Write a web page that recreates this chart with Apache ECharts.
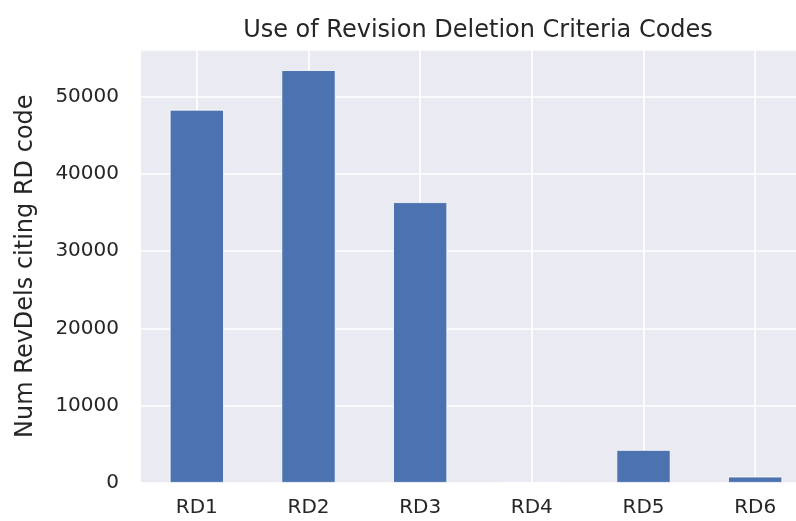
<!DOCTYPE html>
<html>
<head>
<meta charset="utf-8">
<script src="https://cdn.jsdelivr.net/npm/echarts@6/dist/echarts.min.js"></script>
<style>html,body{margin:0;padding:0;background:#fff;overflow:hidden;}#chart{width:796px;height:521px;}</style>
</head>
<body>
<div id="chart"></div>
<script>
const categories = ['RD1', 'RD2', 'RD3', 'RD4', 'RD5', 'RD6'];
const counts = [48300, 53430, 36330, 0, 4250, 800];
const yTicks = [0, 10000, 20000, 30000, 40000, 50000];
const titleText = 'Use of Revision Deletion Criteria Codes';
const yName = 'Num RevDels citing RD code';

const chart = echarts.init(document.getElementById('chart'), null, {renderer: 'canvas'});
const font = 'DejaVu Sans';
chart.setOption({
  animation: false,
  backgroundColor: '#ffffff',
  title: {
    text: titleText,
    left: 473, top: 14, textAlign: 'center',
    textStyle: {fontFamily: font, fontSize: 24, fontWeight: 'normal', color: '#262626'}
  },
  grid: {left: 141, width: 670, top: 49.5, height: 433.3, containLabel: false, outerBoundsMode: 'none', show: true, backgroundColor: '#eaeaf2', borderWidth: 0},
  xAxis: {
    type: 'category',
    data: categories,
    axisLine: {show: false},
    axisTick: {show: false},
    splitLine: {show: true, alignWithLabel: true, lineStyle: {color: '#ffffff', width: 1.6}},
    axisLabel: {fontFamily: font, fontSize: 20, color: '#262626', margin: 15, interval: 0},
    boundaryGap: true
  },
  yAxis: {
    type: 'value',
    min: 0, max: 56100, interval: 10000,
    name: yName,
    nameLocation: 'middle',
    nameGap: 103,
    nameTextStyle: {fontFamily: font, fontSize: 24, color: '#262626'},
    axisLine: {show: false},
    axisTick: {show: false},
    splitLine: {show: true, lineStyle: {color: '#ffffff', width: 1.6}},
    axisLabel: {
      fontFamily: font, fontSize: 20, color: '#262626', margin: 22, showMaxLabel: false,
      formatter: v => (yTicks.indexOf(v) >= 0 ? String(v) : '')
    }
  },
  series: [{
    type: 'bar',
    data: counts,
    barWidth: '48.5%',
    itemStyle: {color: '#4c72b0', borderColor: '#ffffff', borderWidth: 0.8}
  }]
});
</script>
</body>
</html>
